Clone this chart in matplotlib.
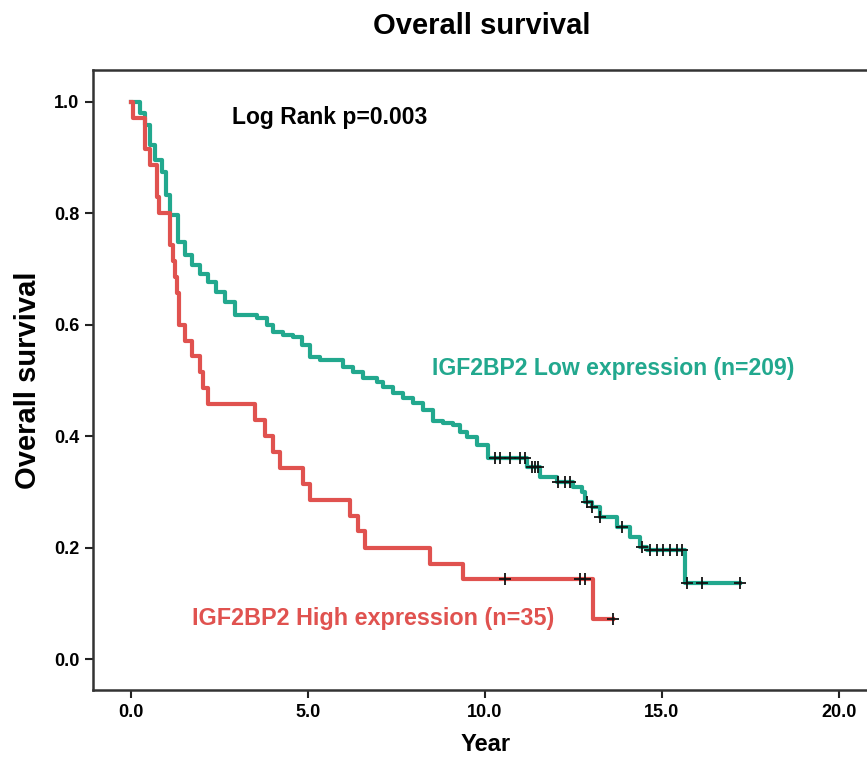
import numpy as np
from matplotlib import pyplot as plt

plt.rcParams["font.family"] = ["Liberation Sans", "DejaVu Sans"]
plt.rcParams["font.weight"] = "bold"

# IGF2BP2 low expression (n=209), step curve
low_t = [0, 0.25, 0.40, 0.54, 0.68, 0.88, 0.99, 1.10, 1.33, 1.53, 1.72, 1.95, 2.18,
         2.40, 2.66, 2.94, 3.56, 3.84, 4.01, 4.29, 4.58, 4.83, 5.06, 5.34, 5.99,
         6.27, 6.55, 6.95, 7.12, 7.40, 7.68, 7.97, 8.25, 8.53, 8.81, 9.10, 9.29,
         9.49, 9.77, 10.08, 11.19, 11.55, 12.03, 12.49, 12.74, 12.82, 13.02, 13.25,
         13.73, 14.10, 14.38, 14.58, 15.65, 17.20]
low_s = [1.0, 0.979, 0.958, 0.922, 0.895, 0.874, 0.832, 0.796, 0.748, 0.725, 0.707,
         0.691, 0.676, 0.658, 0.640, 0.617, 0.612, 0.599, 0.587, 0.581, 0.578, 0.563,
         0.542, 0.536, 0.524, 0.515, 0.504, 0.497, 0.488, 0.477, 0.468, 0.459, 0.447,
         0.427, 0.423, 0.420, 0.407, 0.398, 0.384, 0.361, 0.344, 0.326, 0.317, 0.309,
         0.300, 0.282, 0.273, 0.255, 0.237, 0.219, 0.201, 0.196, 0.136, 0.136]
low_cens = [10.28, 10.42, 10.71, 10.99, 11.13, 11.33, 11.41, 11.50, 12.06, 12.26,
            12.40, 12.88, 13.02, 13.25, 13.87, 14.44, 14.66, 14.86, 15.03, 15.23,
            15.42, 15.56, 15.71, 16.13, 17.20]

# IGF2BP2 high expression (n=35)
high_t = [0, 0.05, 0.40, 0.54, 0.73, 0.78, 1.10, 1.19, 1.25, 1.31, 1.36, 1.53, 1.72,
          1.95, 2.03, 2.18, 3.50, 3.79, 4.01, 4.21, 4.86, 5.06, 6.19, 6.41, 6.61,
          8.45, 9.38, 13.05, 13.62]
high_s = [1.0, 0.971, 0.914, 0.886, 0.829, 0.800, 0.743, 0.714, 0.686, 0.657, 0.600,
          0.571, 0.543, 0.514, 0.486, 0.457, 0.429, 0.400, 0.371, 0.343, 0.314, 0.286,
          0.257, 0.229, 0.200, 0.171, 0.143, 0.071, 0.071]
high_cens = [10.56, 12.68, 12.82, 13.62]

green = "#22a88e"
red = "#e0524f"


def surv_at(t, s, x):
    idx = np.searchsorted(t, x, side="right") - 1
    return np.array(s)[idx]


fig = plt.figure(figsize=(8.67, 7.57), dpi=100)
ax = fig.add_axes([0.1073, 0.0885, 0.9094, 0.819])

ax.step(low_t, low_s, where="post", color=green, lw=3.0, zorder=2)
ax.step(high_t, high_s, where="post", color=red, lw=3.0, zorder=2)
ax.plot(low_cens, surv_at(low_t, low_s, low_cens), "+", color="#111111",
        ms=8, mew=1.3, zorder=3)
ax.plot(high_cens, surv_at(high_t, high_s, high_cens), "+", color="#111111",
        ms=8, mew=1.3, zorder=3)

ax.set_xlim(-1.07, 21.2)
ax.set_ylim(-0.0556, 1.0565)
ax.set_xticks([0, 5, 10, 15, 20])
ax.set_yticks([0.0, 0.2, 0.4, 0.6, 0.8, 1.0])
ax.set_xticklabels(["0.0", "5.0", "10.0", "15.0", "20.0"])
ax.set_yticklabels(["0.0", "0.2", "0.4", "0.6", "0.8", "1.0"])
ax.tick_params(direction="out", length=6, width=1.5, labelsize=13, pad=4, color="#222222")
for sp in ax.spines.values():
    sp.set_linewidth(1.8)
    sp.set_color("#333333")

ax.text(2.85, 0.972, "Log Rank p=0.003", fontsize=16.5, fontweight="bold", va="center")
ax.text(8.5, 0.522, "IGF2BP2 Low expression (n=209)", fontsize=16.6, fontweight="bold",
        color=green, va="center")
ax.text(1.72, 0.0735, "IGF2BP2 High expression (n=35)", fontsize=16.8, fontweight="bold",
        color=red, va="center")

fig.text(0.556, 0.965, "Overall survival", fontsize=21, fontweight="bold",
         ha="center", va="center")
fig.text(0.032, 0.498, "Overall survival", fontsize=21, fontweight="bold",
         rotation=90, ha="center", va="center")
fig.text(0.5606, 0.016, "Year", fontsize=17, fontweight="bold", ha="center", va="center")

plt.savefig("out.png", dpi=100)
